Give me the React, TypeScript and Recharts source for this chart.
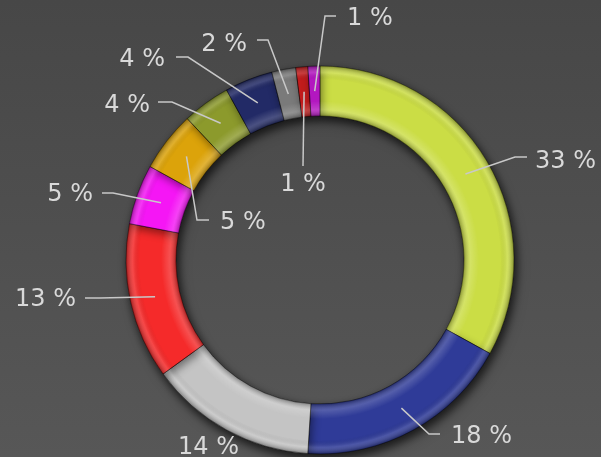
import { PieChart, Pie, Cell } from 'recharts'

const categories = ['A', 'B', 'C', 'D', 'E', 'F', 'G', 'H', 'I', 'J', 'K']
const shares = [33, 18, 14, 13, 5, 5, 4, 4, 2, 1, 1]
const colors = [
    '#cbdd45', '#2f3b98', '#c4c4c4', '#f52a2a', '#f516f5', '#dca30a',
    '#8c9a2c', '#222a66', '#7a7a7a', '#c21c1c', '#b317c0',
]

// label placement relative to the chart centre: elbow, end of the leader, text anchor
type LabelSpot = { elbow?: [number, number]; end?: [number, number]; text: [number, number]; anchor: 'start' | 'end' | 'middle' }
const labelSpots: LabelSpot[] = [
    { elbow: [195, -103], end: [207, -103], text: [215, -100], anchor: 'start' },
    { elbow: [109, 174], end: [120, 174], text: [131, 175], anchor: 'start' },
    { text: [-142, 186], anchor: 'start' },
    { elbow: [-220, 38], end: [-235, 38], text: [-244, 38], anchor: 'end' },
    { elbow: [-207, -67], end: [-218, -67], text: [-227, -67], anchor: 'end' },
    { elbow: [-123, -40], end: [-111, -40], text: [-100, -39], anchor: 'start' },
    { elbow: [-148, -158], end: [-162, -158], text: [-170, -156], anchor: 'end' },
    { elbow: [-132, -203], end: [-144, -203], text: [-155, -202], anchor: 'end' },
    { elbow: [-52, -220], end: [-63, -220], text: [-73, -217], anchor: 'end' },
    { elbow: [-17, -94], end: [-17, -94], text: [-17, -77], anchor: 'middle' },
    { elbow: [5, -244], end: [16, -244], text: [27, -243], anchor: 'start' },
]

const data = categories.map((name, i) => ({ name, value: shares[i] }))

const RAD = Math.PI / 180

function SliceLabel(props: any) {
    const { cx, cy, midAngle, innerRadius, outerRadius, index, value } = props
    const spot = labelSpots[index]
    if (!spot) return null
    const r = (innerRadius + outerRadius) / 2
    const sx = cx + r * Math.cos(-midAngle * RAD)
    const sy = cy + r * Math.sin(-midAngle * RAD)
    return (
        <g>
            {spot.elbow && spot.end && (
                <polyline
                    points={`${sx},${sy} ${cx + spot.elbow[0]},${cy + spot.elbow[1]} ${cx + spot.end[0]},${cy + spot.end[1]}`}
                    fill="none"
                    stroke="#c8c8c8"
                    strokeWidth={1.5}
                />
            )}
            <text
                x={cx + spot.text[0]}
                y={cy + spot.text[1]}
                textAnchor={spot.anchor}
                dominantBaseline="central"
                fill="#d9d9d9"
                fontSize={24}
                fontFamily="DejaVu Sans, Verdana, sans-serif"
            >
                {`${value} %`}
            </text>
        </g>
    )
}

export default function App() {
    return (
        <div style={{ width: 601, height: 457, background: 'linear-gradient(#474747, #575757)', overflow: 'hidden' }}>
            <style>{`body{margin:0} .basePie{filter:drop-shadow(2px 4px 4px rgba(0,0,0,0.45))}`}</style>
            <PieChart width={601} height={457} margin={{ top: 0, right: 0, bottom: 0, left: 0 }}>
                <defs>
                    <radialGradient id="bevel" gradientUnits="userSpaceOnUse" cx={320} cy={260} r={194}>
                        <stop offset="0.74" stopColor="#000" stopOpacity={0.35} />
                        <stop offset="0.775" stopColor="#fff" stopOpacity={0.18} />
                        <stop offset="0.82" stopColor="#fff" stopOpacity={0} />
                        <stop offset="0.93" stopColor="#000" stopOpacity={0} />
                        <stop offset="0.965" stopColor="#fff" stopOpacity={0.14} />
                        <stop offset="1" stopColor="#000" stopOpacity={0.35} />
                    </radialGradient>
                </defs>
                <Pie
                    className="basePie"
                    data={data}
                    dataKey="value"
                    cx={320}
                    cy={260}
                    innerRadius={144}
                    outerRadius={194}
                    startAngle={90}
                    endAngle={-270}
                    stroke="rgba(0,0,0,0.25)"
                    strokeWidth={1}
                    labelLine={false}
                    isAnimationActive={false}
                >
                    {data.map((d, i) => (
                        <Cell key={d.name} fill={colors[i]} />
                    ))}
                </Pie>
                <Pie
                    data={data}
                    dataKey="value"
                    cx={320}
                    cy={260}
                    innerRadius={144}
                    outerRadius={194}
                    startAngle={90}
                    endAngle={-270}
                    stroke="rgba(0,0,0,0.2)"
                    strokeWidth={1}
                    label={SliceLabel}
                    labelLine={false}
                    isAnimationActive={false}
                >
                    {data.map((d) => (
                        <Cell key={d.name} fill="url(#bevel)" />
                    ))}
                </Pie>
            </PieChart>
        </div>
    )
}
